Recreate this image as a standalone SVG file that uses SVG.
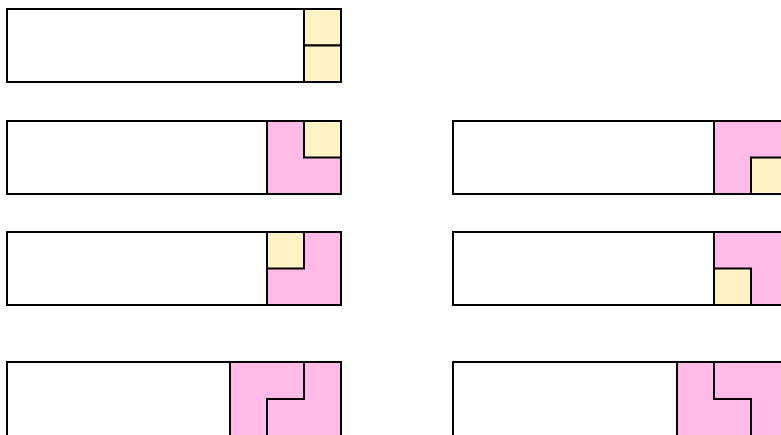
<svg xmlns="http://www.w3.org/2000/svg" width="781" height="435" viewBox="0 0 781 435">
<style>
.box{fill:#ffffff;stroke:#000;stroke-width:2}
.pink{fill:#ffbbe8;stroke:#000;stroke-width:2}
.yel{fill:#fff2c4;stroke:#000;stroke-width:2}
.ln{fill:none;stroke:#000;stroke-width:2}
</style>
<rect width="781" height="435" fill="#ffffff"/>
<g id="row1-left">
<rect class="box" x="7" y="9" width="334" height="73"/>
<rect class="yel" x="304" y="9" width="37" height="36.5"/>
<rect class="yel" x="304" y="45.5" width="37" height="36.5"/>
</g>
<g id="row2-left">
<rect class="box" x="7" y="121" width="334" height="73"/>
<rect class="pink" x="267" y="121" width="74" height="73"/>
<rect class="yel" x="304" y="121" width="37" height="36.5"/>
</g>
<g id="row2-right">
<rect class="box" x="453" y="121" width="334" height="73"/>
<rect class="pink" x="714" y="121" width="74" height="73"/>
<rect class="yel" x="751" y="157.5" width="37" height="36.5"/>
</g>
<g id="row3-left">
<rect class="box" x="7" y="232" width="334" height="73"/>
<rect class="pink" x="267" y="232" width="74" height="73"/>
<rect class="yel" x="267" y="232" width="37" height="36.5"/>
</g>
<g id="row3-right">
<rect class="box" x="453" y="232" width="334" height="73"/>
<rect class="pink" x="714" y="232" width="74" height="73"/>
<rect class="yel" x="714" y="268.5" width="37" height="36.5"/>
</g>
<g id="row4-left">
<rect class="box" x="7" y="362" width="334" height="74"/>
<rect class="pink" x="230" y="362" width="111" height="74"/>
<path class="ln" d="M304 362 V399 H267 V436"/>
</g>
<g id="row4-right">
<rect class="box" x="453" y="362" width="334" height="74"/>
<rect class="pink" x="677" y="362" width="111" height="74"/>
<path class="ln" d="M714 362 V399 H751 V436"/>
</g>
</svg>
